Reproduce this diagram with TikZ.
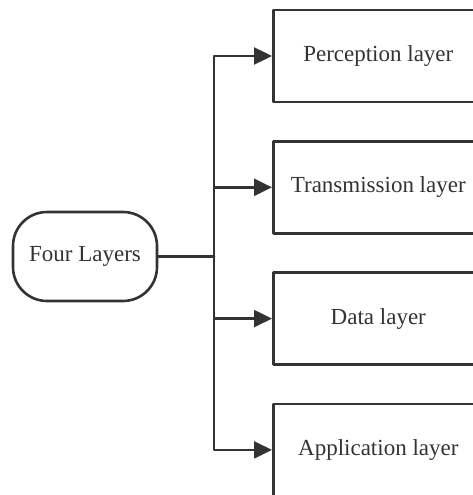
\documentclass[tikz,border=0pt]{standalone}
\usepackage{fontspec}
\setmainfont{Liberation Serif}
\usetikzlibrary{arrows.meta}

\begin{document}
\begin{tikzpicture}[line cap=round,line join=round,>={Triangle[length=18pt,width=17pt]},x=1pt,y=-1pt,
    layerbox/.style={draw=black!80,line width=2.6pt,minimum width=210pt,minimum height=92pt,
      text=black!80,font=\fontsize{23}{26}\selectfont},
    rootbox/.style={draw=black!80,line width=2.6pt,rounded corners=34pt,minimum width=144pt,
      minimum height=89pt,text=black!80,font=\fontsize{23}{26}\selectfont}]
      \useasboundingbox (0,0) rectangle (473,495);
      \clip (0,0) rectangle (473,495);
      \node[rootbox] (four) at (85,256.5) {Four Layers};
      \coordinate (trunk) at (214,256.5);
      \foreach \name/\txt [count=\i] in {perc/Perception layer,trans/Transmission layer,data/Data layer,appl/Application layer}
      \node[layerbox,anchor=west] (\name) at (272,{56+131.3*(\i-1)}) {\txt};
      \draw[color=black!80,line width=2.6pt] (four.east) -- (trunk);
      \foreach \name in {perc,trans,data,appl}
      \draw[->,color=black!80,line width=2.4pt] (trunk) |- (\name.west);
    \end{tikzpicture}
\end{document}
